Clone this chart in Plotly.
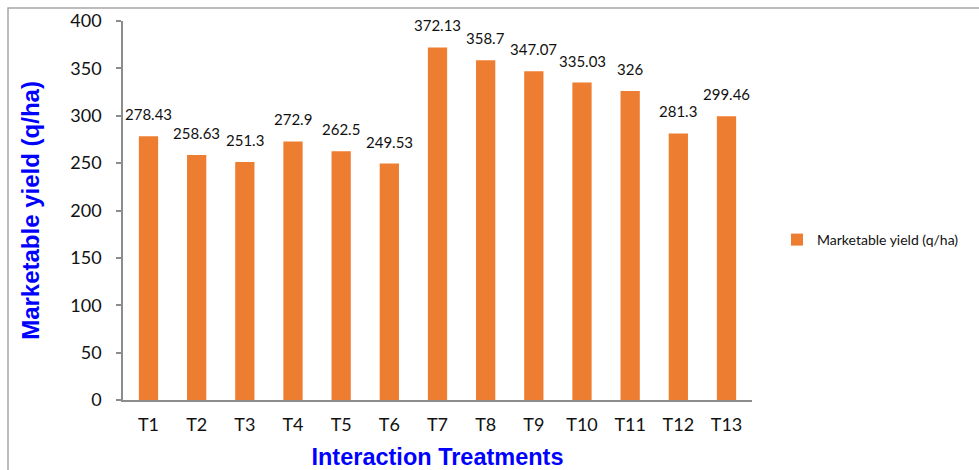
import plotly.graph_objects as go

categories = ["T1", "T2", "T3", "T4", "T5", "T6", "T7", "T8", "T9", "T10", "T11", "T12", "T13"]
values = [278.43, 258.63, 251.3, 272.9, 262.5, 249.53, 372.13, 358.7, 347.07, 335.03, 326, 281.3, 299.46]
value_labels = ["278.43", "258.63", "251.3", "272.9", "262.5", "249.53", "372.13", "358.7", "347.07", "335.03", "326", "281.3", "299.46"]
series_name = "Marketable yield (q/ha)"

W, H = 979, 470
L, R, T, B = 123, 227, 21, 70
pw, ph = W - L - R, H - T - B

fig = go.Figure()
fig.add_trace(go.Bar(
    x=categories, y=values, name=series_name,
    marker=dict(color="#ED7D31", line=dict(width=0)),
    showlegend=True,
))

for c, v, t in zip(categories, values, value_labels):
    fig.add_annotation(x=c, y=v, text=t, showarrow=False, yanchor="bottom",
                       yshift=11, font=dict(family="Lato", size=15, color="#111111"))

# outer chart border
fig.add_shape(type="rect", xref="paper", yref="paper",
              x0=(8 - L) / pw, x1=(W + 10 - L) / pw,
              y0=-(H + 10 - (H - B)) / ph, y1=1 + (T - 8) / ph,
              line=dict(color="#A6A6A6", width=1.5), fillcolor="rgba(0,0,0,0)", layer="below")

fig.update_layout(
    width=W, height=H,
    margin=dict(l=L, r=R, t=T, b=B, autoexpand=False),
    paper_bgcolor="white", plot_bgcolor="white",
    bargap=0.6,
    font=dict(family="Lato", color="#111111"),
    legend=dict(x=(777 - L) / pw, y=1 - (240 - T) / ph, xanchor="left", yanchor="middle",
                font=dict(family="Lato", size=14, color="#111111"),
                itemwidth=30, bgcolor="rgba(0,0,0,0)"),
    xaxis=dict(
        showline=True, linecolor="#8C8C8C", linewidth=1.5,
        ticks="", showgrid=False,
        tickfont=dict(family="Lato", size=18, color="#111111"),
        ticklabelstandoff=8,
        title=dict(text="<b>Interaction Treatments</b>",
                   font=dict(family="Liberation Sans", size=23.5, color="#0000FF"),
                   standoff=15),
    ),
    yaxis=dict(
        range=[0, 400], dtick=50,
        showline=True, linecolor="#8C8C8C", linewidth=1.5,
        ticks="outside", ticklen=5, tickcolor="#8C8C8C", tickwidth=1.5,
        showgrid=False, zeroline=False,
        tickfont=dict(family="Lato", size=18, color="#111111"),
        ticklabelstandoff=11,
        title=dict(text="<b>Marketable yield (q/ha)</b>",
                   font=dict(family="Liberation Sans", size=24, color="#0000FF"),
                   standoff=24),
    ),
)

fig.write_html("out.html", config={"displayModeBar": False},
               post_script="document.body.style.margin='0';document.body.style.overflow='hidden';")
